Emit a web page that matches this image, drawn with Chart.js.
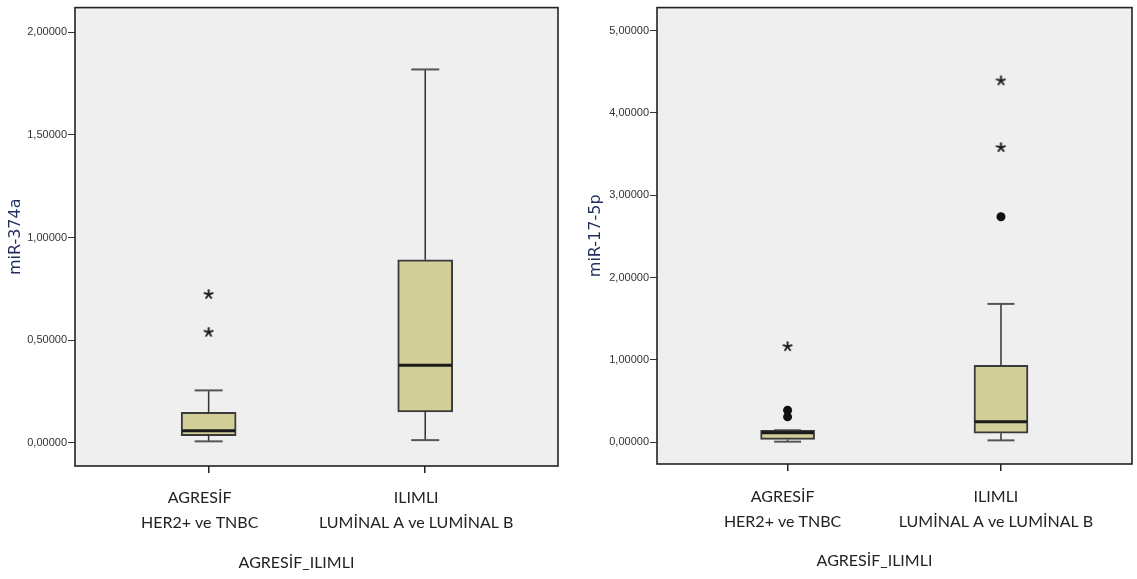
<!DOCTYPE html>
<html>
<head>
<meta charset="utf-8">
<script src="https://cdn.jsdelivr.net/npm/chart.js@4"></script>
<style>
  body { margin: 0; background: #fff; }
  canvas { position: absolute; top: 0; }
  #mir374aChart { left: 0; }
  #mir17Chart { left: 570px; }
</style>
</head>
<body>
<canvas id="mir374aChart" width="570" height="579"></canvas>
<canvas id="mir17Chart" width="567" height="579"></canvas>
<script>
// gruplar (x ekseni)
const groupLabels = [["AGRESİF", "HER2+ ve TNBC"], ["ILIMLI", "LUMİNAL A ve LUMİNAL B"]];
const groupTitle = "AGRESİF_ILIMLI";

// miR-374a kutu grafiği
const mir374aMin = [0.008, 0.014];
const mir374aQ1 = [0.036, 0.151];
const mir374aMedian = [0.060, 0.378];
const mir374aQ3 = [0.149, 0.892];
const mir374aMax = [0.256, 1.818];
const mir374aOutliers = [[], []];
const mir374aExtremes = [[0.723, 0.539], []];
const mir374aTicks = [0, 0.5, 1, 1.5, 2];

// miR-17-5p kutu grafiği
const mir17Min = [0.008, 0.024];
const mir17Q1 = [0.036, 0.110];
const mir17Median = [0.116, 0.250];
const mir17Q3 = [0.147, 0.935];
const mir17Max = [0.147, 1.681];
const mir17Outliers = [[0.39, 0.31], [2.74]];
const mir17Extremes = [[1.163], [4.39, 3.58]];
const mir17Ticks = [0, 1, 2, 3, 4, 5];

const BOX_FILL = "#d3cf98";
const INK = "#222";

// yıldız işareti (uç değerler)
function makeStar() {
  const c = document.createElement("canvas");
  c.width = c.height = 11;
  const g = c.getContext("2d");
  g.strokeStyle = "#1a1a1a";
  g.lineWidth = 1.9;
  g.lineCap = "round";
  for (let k = 0; k < 5; k++) {
    const a = -Math.PI / 2 + k * 2 * Math.PI / 5;
    g.beginPath();
    g.moveTo(5.5, 5.5);
    g.lineTo(5.5 + 4.3 * Math.cos(a), 5.5 + 4.3 * Math.sin(a));
    g.stroke();
  }
  return c;
}
const starImg = makeStar();

function pointsOf(lists) {
  const pts = [];
  lists.forEach((vals, i) => vals.forEach(v => pts.push({ x: i, y: v })));
  return pts;
}

const boxPlugin = {
  id: "boxplot",
  beforeDraw(chart) {
    const { ctx, chartArea: a } = chart;
    ctx.save();
    ctx.fillStyle = "#efefef";
    ctx.fillRect(a.left, a.top, a.right - a.left, a.bottom - a.top);
    ctx.restore();
  },
  beforeDatasetsDraw(chart, args, opts) {
    const { ctx, scales: { x, y } } = chart;
    ctx.save();
    opts.min.forEach((_, i) => {
      const px = x.getPixelForValue(i);
      ctx.strokeStyle = "#333";
      ctx.lineWidth = 1.5;
      ctx.beginPath();
      ctx.moveTo(px, y.getPixelForValue(opts.q3[i]));
      ctx.lineTo(px, y.getPixelForValue(opts.max[i]));
      ctx.moveTo(px, y.getPixelForValue(opts.q1[i]));
      ctx.lineTo(px, y.getPixelForValue(opts.min[i]));
      ctx.stroke();
      ctx.strokeStyle = "#555";
      ctx.lineWidth = 2;
      [opts.min[i], opts.max[i]].forEach(v => {
        const py = y.getPixelForValue(v);
        ctx.beginPath();
        ctx.moveTo(px - opts.cap / 2, py);
        ctx.lineTo(px + opts.cap / 2, py);
        ctx.stroke();
      });
    });
    ctx.restore();
  },
  afterDatasetsDraw(chart, args, opts) {
    const { ctx, scales: { x, y } } = chart;
    ctx.save();
    ctx.strokeStyle = "#1a1a1a";
    ctx.lineWidth = 3;
    opts.median.forEach((m, i) => {
      const px = x.getPixelForValue(i);
      const py = y.getPixelForValue(m);
      ctx.beginPath();
      ctx.moveTo(px - opts.box / 2 + 1, py);
      ctx.lineTo(px + opts.box / 2 - 1, py);
      ctx.stroke();
    });
    ctx.restore();
  },
  afterDraw(chart, args, opts) {
    const { ctx, chartArea: a } = chart;
    ctx.save();
    ctx.strokeStyle = INK;
    ctx.lineWidth = 1.6;
    ctx.strokeRect(a.left, a.top, a.right - a.left, a.bottom - a.top);
    // eksen başlığı
    ctx.fillStyle = INK;
    ctx.font = "16px Lato";
    ctx.textAlign = "center";
    ctx.textBaseline = "middle";
    ctx.fillText(groupTitle, (a.left + a.right) / 2 - 20, a.bottom + 96.5);
    ctx.restore();
  }
};

function fmt(v) {
  return v.toFixed(5).replace(".", ",");
}

function makeBoxChart(id, s) {
  return new Chart(document.getElementById(id), {
    type: "bar",
    data: {
      datasets: [
        {
          data: s.q1.map((q, i) => ({ x: i, y: [q, s.q3[i]] })),
          backgroundColor: BOX_FILL,
          borderColor: "#3a3a3a",
          borderWidth: 2,
          borderSkipped: false,
          barThickness: s.box,
          grouped: false
        },
        {
          type: "scatter",
          data: pointsOf(s.outliers),
          pointStyle: "circle",
          pointRadius: 4.5,
          backgroundColor: "#111",
          borderWidth: 0
        },
        {
          type: "scatter",
          data: pointsOf(s.extremes),
          pointStyle: starImg
        }
      ]
    },
    options: {
      responsive: false,
      animation: false,
      layout: { padding: s.padding },
      plugins: {
        legend: { display: false },
        tooltip: { enabled: false },
        boxplot: {
          min: s.min, q1: s.q1, median: s.median, q3: s.q3, max: s.max,
          box: s.box, cap: s.cap
        }
      },
      scales: {
        x: {
          type: "linear",
          offset: false,
          min: s.xMin,
          max: s.xMax,
          afterBuildTicks: sc => { sc.ticks = groupLabels.map((_, i) => ({ value: i })); },
          afterFit: sc => { sc.height = s.xHeight; },
          border: { display: false },
          grid: { offset: false, drawOnChartArea: false, drawTicks: true, tickLength: 7, color: INK, lineWidth: 1.5 },
          ticks: {
            callback: v => groupLabels[v],
            color: INK,
            padding: s.labelPad,
            labelOffset: s.labelShift,
            maxRotation: 0,
            font: { family: "Lato", size: 16, lineHeight: "25px" }
          }
        },
        y: {
          min: s.yMin,
          max: s.yMax,
          afterBuildTicks: sc => { sc.ticks = s.ticks.map(v => ({ value: v })); },
          afterFit: sc => { sc.width = s.yWidth; },
          border: { display: false },
          grid: { drawOnChartArea: false, drawTicks: true, tickLength: 7, color: "#333" },
          ticks: {
            callback: v => fmt(v),
            color: "#333",
            padding: 1,
            font: { family: "'Liberation Sans', Arial", size: 11 }
          },
          title: {
            display: true,
            text: s.title,
            color: "#1f2f5a",
            padding: { top: s.titlePad, bottom: 0 },
            font: { family: "'DejaVu Sans'", size: 16 }
          }
        }
      }
    },
    plugins: [boxPlugin]
  });
}

makeBoxChart("mir374aChart", {
  title: "miR-374a",
  min: mir374aMin, q1: mir374aQ1, median: mir374aMedian, q3: mir374aQ3, max: mir374aMax,
  outliers: mir374aOutliers, extremes: mir374aExtremes, ticks: mir374aTicks,
  yMin: -0.112, yMax: 2.119, xMin: -0.617, xMax: 1.613,
  padding: { left: 0, right: 12, top: 3, bottom: 0 },
  yWidth: 75, xHeight: 113, titlePad: 6.5, labelPad: 12.5, labelShift: -9,
  box: 55, cap: 28
});

makeBoxChart("mir17Chart", {
  title: "miR-17-5p",
  min: mir17Min, q1: mir17Q1, median: mir17Median, q3: mir17Q3, max: mir17Max,
  outliers: mir17Outliers, extremes: mir17Extremes, ticks: mir17Ticks,
  yMin: -0.263, yMax: 5.279, xMin: -0.612, xMax: 1.614,
  padding: { left: 0, right: 2, top: 1, bottom: 0 },
  yWidth: 87, xHeight: 115, titlePad: 16.5, labelPad: 13.5, labelShift: -5,
  box: 54, cap: 27
});
</script>
</body>
</html>
